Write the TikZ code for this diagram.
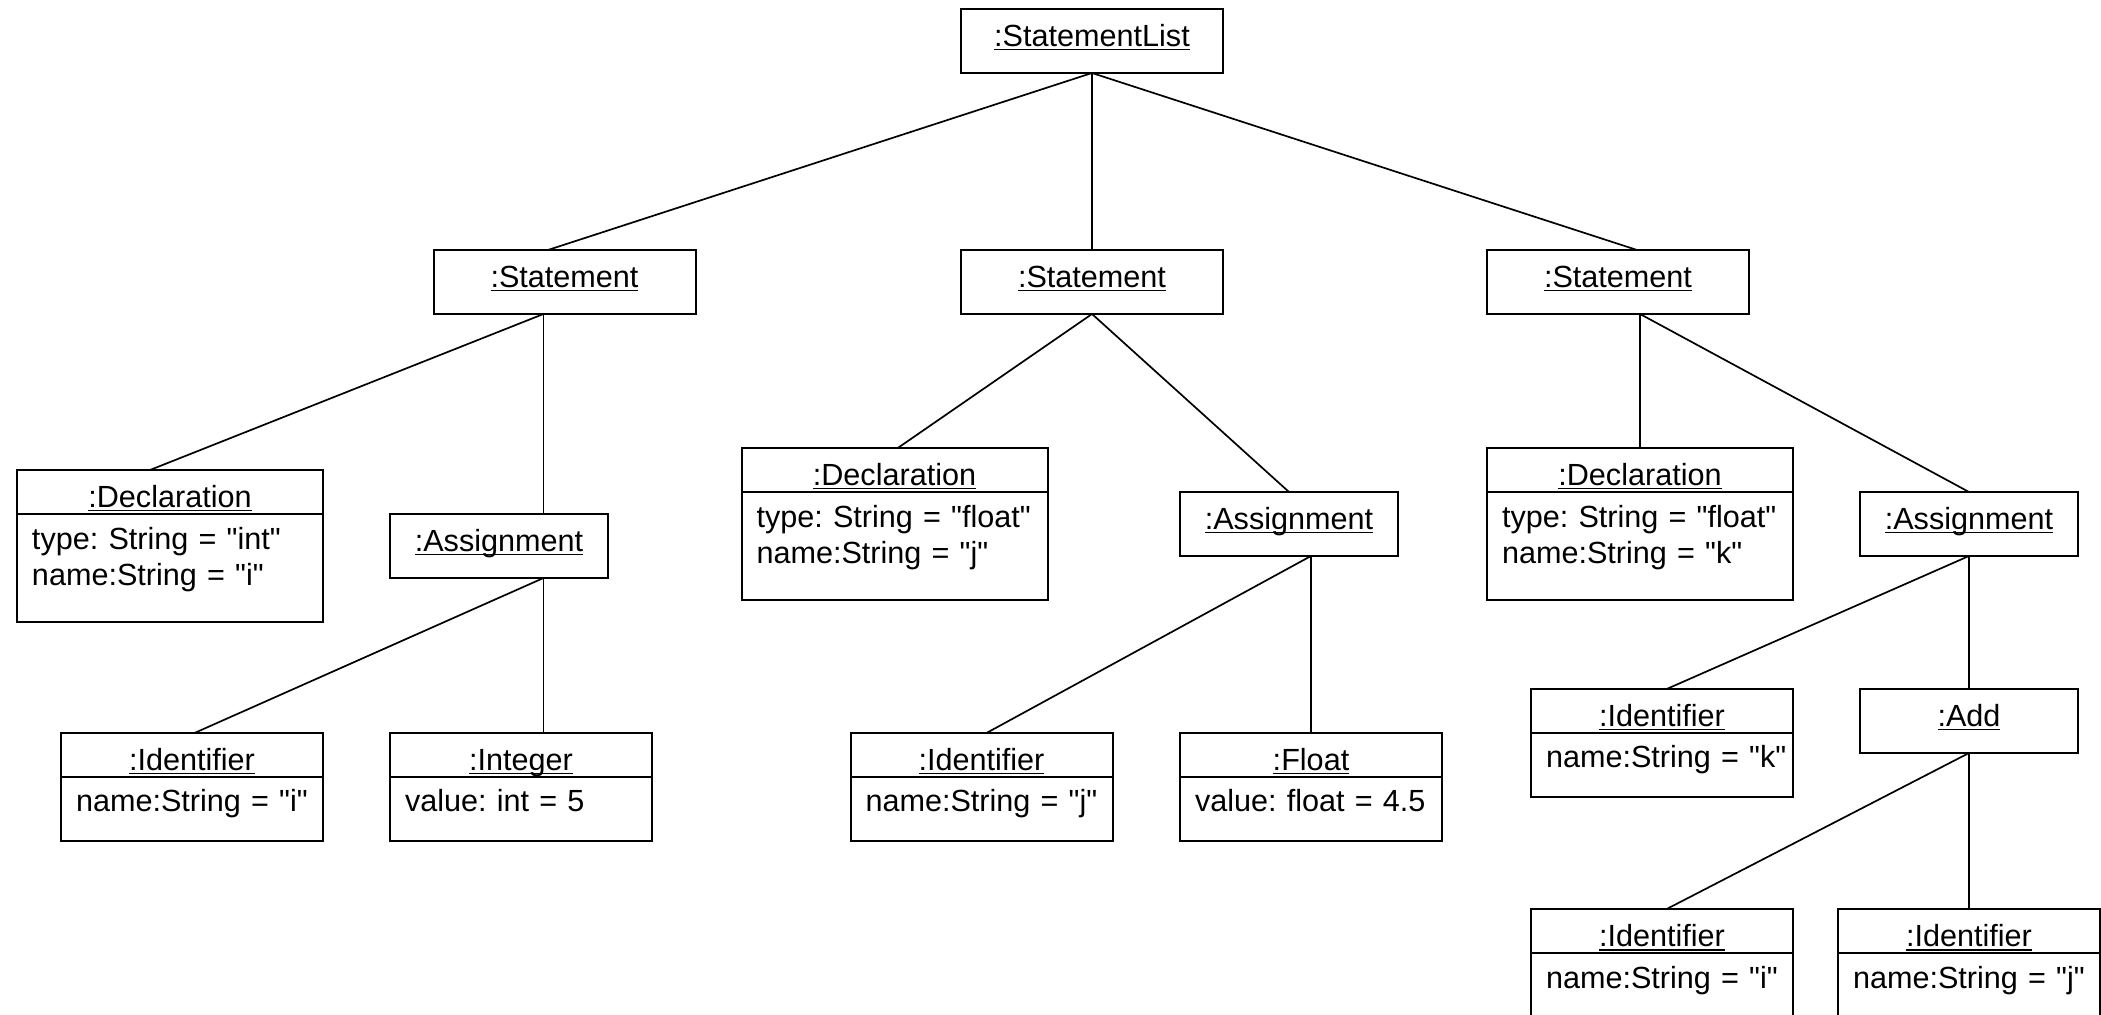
\documentclass[tikz,border=0pt]{standalone}
\usepackage{fontspec}
\setmainfont{Liberation Sans}[Ligatures=TeXOff]
% underlined object name, rule drawn just below the baseline
\newcommand\objname[1]{\setbox0\hbox{#1}\rlap{\rule[-2pt]{\wd0}{0.65pt}}\box0}
% one attribute line, never broken
\newcommand\attr[1]{\mbox{#1}}
\begin{document}
\begin{tikzpicture}[x=0.5pt, y=-0.5pt,
  every node/.style={font=\fontsize{15.3}{18}\selectfont\frenchspacing},
  box/.style={draw, line width=1pt, inner sep=0pt, outer sep=0pt},
  single/.style={box, text height=18.75pt, text depth=13.25pt},
  head/.style={box, text height=18.75pt, text depth=3.25pt},
  small/.style={minimum width=109pt},
  medium/.style={minimum width=131pt},
  wide/.style={minimum width=153pt},
  attrs/.style={box, anchor=north, inner xsep=7.5pt, inner ysep=0pt, align=left, text width=#1},
  attr1/.style={attrs=116pt, text height=17.5pt, text depth=14.5pt},
  attr2/.style={attrs=138pt, text height=17.75pt, text depth=36.25pt},
  link/.style={line width=0.85pt}
]
\fill[white] (0,0) rectangle (2101,1015);
\useasboundingbox (0,0) rectangle (2101,1015);

% root and statements
\node[single, medium] (sl) at (1092,41)  {\objname{:StatementList}};
\node[single, medium] (s1) at (564.5,282) {\objname{:Statement}};
\node[single, medium] (s2) at (1092,282)  {\objname{:Statement}};
\node[single, medium] (s3) at (1618,282)  {\objname{:Statement}};

% first statement: int i = 5
\node[head, wide] (d1) at (170,492) {\objname{:Declaration}};
\node[attr2] (d1a) at (d1.south) {\attr{type: String = "int"}\\\attr{name:String = "i"}};
\node[single, small] (a1) at (499,546) {\objname{:Assignment}};
\node[head, medium] (i1) at (192,755) {\objname{:Identifier}};
\node[attr1] (i1a) at (i1.south) {\attr{name:String = "i"}};
\node[head, medium] (n1) at (521,755) {\objname{:Integer}};
\node[attr1] (n1a) at (n1.south) {\attr{value: int = 5}};

% second statement: float j = 4.5
\node[head, wide] (d2) at (894.5,470) {\objname{:Declaration}};
\node[attr2] (d2a) at (d2.south) {\attr{type: String = "float"}\\\attr{name:String = "j"}};
\node[single, small] (a2) at (1289,524) {\objname{:Assignment}};
\node[head, medium] (i2) at (981.5,755) {\objname{:Identifier}};
\node[attr1] (i2a) at (i2.south) {\attr{name:String = "j"}};
\node[head, medium] (f2) at (1311,755) {\objname{:Float}};
\node[attr1] (f2a) at (f2.south) {\attr{value: float = 4.5}};

% third statement: float k = i + j
\node[head, wide] (d3) at (1640,470) {\objname{:Declaration}};
\node[attr2] (d3a) at (d3.south) {\attr{type: String = "float"}\\\attr{name:String = "k"}};
\node[single, small] (a3) at (1969,524) {\objname{:Assignment}};
\node[head, medium] (i3) at (1662,711) {\objname{:Identifier}};
\node[attr1] (i3a) at (i3.south) {\attr{name:String = "k"}};
\node[single, small] (add) at (1969,721) {\objname{:Add}};
\node[head, medium] (i4) at (1662,931) {\objname{:Identifier}};
\node[attr1] (i4a) at (i4.south) {\attr{name:String = "i"}};
\node[head, medium] (i5) at (1969,931) {\objname{:Identifier}};
\node[attr1] (i5a) at (i5.south) {\attr{name:String = "j"}};

% links
\draw[link] (sl.south) -- ([xshift=-8.25pt]s1.north);
\draw[link] (sl.south) -- (s2.north);
\draw[link] (sl.south) -- ([xshift=9.5pt]s3.north);

\draw[link] ([xshift=-10.5pt]s1.south) -- ([xshift=-10pt]d1.north);
\draw[link] ([xshift=-10.5pt]s1.south) -- ([xshift=22.25pt]a1.north);
\draw[link] ([xshift=22.25pt]a1.south) -- ([xshift=1.25pt]i1.north);
\draw[link] ([xshift=22.25pt]a1.south) -- ([xshift=11.25pt]n1.north);

\draw[link] (s2.south) -- ([xshift=1.65pt]d2.north);
\draw[link] (s2.south) -- (a2.north);
\draw[link] ([xshift=11pt]a2.south) -- ([xshift=2.5pt]i2.north);
\draw[link] ([xshift=11pt]a2.south) -- (f2.north);

\draw[link] ([xshift=11pt]s3.south) -- (d3.north);
\draw[link] ([xshift=11pt]s3.south) -- (a3.north);
\draw[link] (a3.south) -- ([xshift=2.35pt]i3.north);
\draw[link] (a3.south) -- (add.north);
\draw[link] (add.south) -- ([xshift=2.35pt]i4.north);
\draw[link] (add.south) -- (i5.north);
\end{tikzpicture}
\end{document}
